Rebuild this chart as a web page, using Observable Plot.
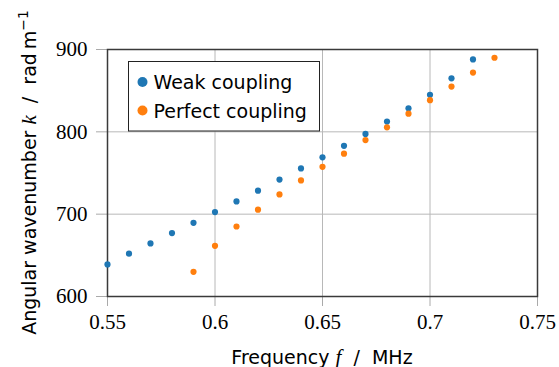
<!DOCTYPE html>
<html><head><meta charset="utf-8">
<script src="https://cdn.jsdelivr.net/npm/d3@7"></script>
<script src="https://cdn.jsdelivr.net/npm/@observablehq/plot@0.6"></script>
<style>html,body{margin:0;padding:0;background:#fff} svg{display:block}</style>
</head><body><div id="chart"></div>
<script>
const weakFreq = [0.55,0.56,0.57,0.58,0.59,0.60,0.61,0.62,0.63,0.64,0.65,0.66,0.67,0.68,0.69,0.70,0.71,0.72];
const weakK    = [639,652,664.5,677,689.5,702.5,715.5,728.5,742,755.5,769,783,797.5,812.5,828.5,845,865,888];
const perfectFreq = [0.59,0.60,0.61,0.62,0.63,0.64,0.65,0.66,0.67,0.68,0.69,0.70,0.71,0.72,0.73];
const perfectK    = [630,661.5,685,705.5,724,741,757.5,773.5,790,805.5,822,838.5,855,872,890];
const seriesNames = ["Weak coupling","Perfect coupling"];
const seriesColors = ["#1f77b4","#ff7f0e"];
const xTicks = [0.55,0.6,0.65,0.7,0.75];
const yTicks = [600,700,800,900];
const xDomain = [0.55,0.75];
const yDomain = [600,900];

const weak = weakFreq.map((f,i)=>({f,k:weakK[i]}));
const perfect = perfectFreq.map((f,i)=>({f,k:perfectK[i]}));

const serif = "Liberation Serif";
const sans = "DejaVu Sans";

const chart = Plot.plot({
  width: 559, height: 367,
  marginLeft: 107, marginRight: 22, marginTop: 49, marginBottom: 71,
  style: {fontFamily: serif, fontSize: "21px", color: "#000", background: "#fff"},
  x: {domain: xDomain},
  y: {domain: yDomain},
  marks: [
    Plot.gridX(xTicks, {stroke: "#b8b8b8", strokeOpacity: 1, strokeWidth: 1}),
    Plot.gridY(yTicks, {stroke: "#b8b8b8", strokeOpacity: 1, strokeWidth: 1}),
    Plot.axisX(xTicks, {tickSize: 10, tickPadding: 8, stroke: "#aaa", strokeOpacity: 1, tickFormat: d => String(+d.toFixed(2)), label: null, fill: "#000", fontSize: 21, fontFamily: serif}),
    Plot.axisY(yTicks, {tickSize: 11, tickPadding: 9, stroke: "#aaa", strokeOpacity: 1, tickFormat: d => String(d), label: null, fill: "#000", fontSize: 21, fontFamily: serif}),
    Plot.frame({stroke: "#3a3a3a", strokeWidth: 1.5}),
    Plot.dot(weak, {x: "f", y: "k", r: 3.1, fill: seriesColors[0]}),
    Plot.dot(perfect, {x: "f", y: "k", r: 3.1, fill: seriesColors[1]})
  ]
});
document.getElementById("chart").appendChild(chart);

const sx = chart.scale("x"), sy = chart.scale("y");
const svg = d3.select(chart);
svg.selectAll('g[aria-label$="tick label"] text').style("font-family", serif);

const x0 = sx.apply(xDomain[0]), x1 = sx.apply(xDomain[1]);
const y0 = sy.apply(yDomain[0]), y1 = sy.apply(yDomain[1]);

// x-axis title
const xt = svg.append("text").attr("x", (x0+x1)/2).attr("y", 364)
  .attr("text-anchor","middle").style("font-family", sans).attr("font-size", 19).attr("fill","#000");
xt.append("tspan").text("Frequency ");
xt.append("tspan").style("font-family", serif).attr("font-style","italic").attr("font-size", 21).text("f");
xt.append("tspan").text("  /  MHz");

// y-axis title
const yt = svg.append("text").attr("transform", `translate(36,${(y0+y1)/2}) rotate(-90)`)
  .attr("text-anchor","middle").style("font-family", sans).attr("font-size", 19).attr("fill","#000");
yt.append("tspan").text("Angular wavenumber ");
yt.append("tspan").style("font-family", serif).attr("font-style","italic").attr("font-size", 21).text("k");
yt.append("tspan").text("  /  rad\u2009m");
yt.append("tspan").attr("dy", -8).attr("font-size", 14).text("\u22121");

// legend
const lg = svg.append("g").attr("text-anchor", "start");
lg.append("rect").attr("x", x0 + 21.5).attr("y", y1 + 12.5).attr("width", 191).attr("height", 69.5)
  .attr("fill","#fff").attr("stroke","#222").attr("stroke-width",1);
seriesNames.forEach((name,i) => {
  const cy = y1 + 33 + i*28.5;
  lg.append("circle").attr("cx", x0 + 35.5).attr("cy", cy).attr("r", 5).attr("fill", seriesColors[i]);
  lg.append("text").attr("x", x0 + 46.5).attr("y", cy + 7).attr("text-anchor", "start").style("font-family", sans).attr("font-size", 19)
    .attr("fill","#000").text(name);
});
</script>
</body></html>
